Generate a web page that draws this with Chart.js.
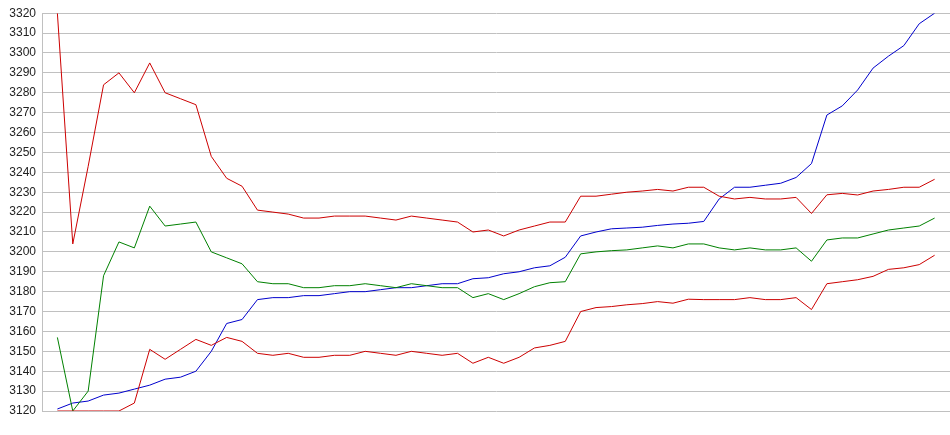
<!DOCTYPE html>
<html>
<head>
<meta charset="utf-8">
<script src="https://cdn.jsdelivr.net/npm/chart.js@4"></script>
<style>
  html, body { margin: 0; padding: 0; background: #fff; }
  #wrap { width: 950px; height: 435px; }
</style>
</head>
<body>
<div id="wrap"><canvas id="lineChart"></canvas></div>
<script>
// values, one per point (58 points)
const redUpper = [3320, 3204, 3243, 3284, 3290, 3280, 3295, 3280, 3277, 3274,
    3248, 3237, 3233, 3221, 3220, 3219, 3217, 3217, 3218, 3218,
    3218, 3217, 3216, 3218, 3217, 3216, 3215, 3210, 3211, 3208,
    3211, 3213, 3215, 3215, 3228, 3228, 3229, 3230, 3230.6, 3231.4,
    3230.6, 3232.5, 3232.5, 3228, 3226.6, 3227.4, 3226.6, 3226.6, 3227.4, 3219.3,
    3228.7, 3229.4, 3228.6, 3230.6, 3231.4, 3232.5, 3232.5, 3236.5];
const green = [3157, 3120, 3130, 3188, 3205, 3202, 3223, 3213, 3214, 3215,
    3200, 3197, 3194, 3185, 3184, 3184, 3182, 3182, 3183, 3183,
    3184, 3183, 3182, 3184, 3183, 3182, 3182, 3177, 3179, 3176,
    3179, 3182.5, 3184.5, 3185, 3199, 3200, 3200.6, 3201, 3202, 3203,
    3202, 3204, 3204, 3202, 3201, 3202, 3201, 3201, 3202, 3195.3,
    3206, 3207, 3207, 3209, 3211, 3212, 3213, 3217];
const blue = [3121, 3124, 3125, 3128, 3129, 3131, 3133, 3136, 3137, 3140,
    3150, 3164, 3166, 3176, 3177, 3177, 3178, 3178, 3179, 3180,
    3180, 3181, 3182, 3182, 3183, 3184, 3184, 3186.5, 3187, 3189,
    3190, 3192, 3193, 3197.3, 3208, 3210, 3211.6, 3212, 3212.4, 3213.3,
    3214, 3214.4, 3215.3, 3226.6, 3232.5, 3232.5, 3233.5, 3234.5, 3237.4, 3244.4,
    3268.8, 3273.4, 3281.4, 3292.4, 3298.4, 3303.7, 3314.7, 3320];
const redLower = [3120, 3120, 3120, 3120, 3120, 3124, 3151, 3146, 3151, 3156,
    3153, 3157, 3155, 3149, 3148, 3149, 3147, 3147, 3148, 3148,
    3150, 3149, 3148, 3150, 3149, 3148, 3149, 3144, 3147, 3144,
    3147, 3151.7, 3153, 3155, 3170, 3172, 3172.5, 3173.4, 3174, 3175,
    3174.2, 3176.2, 3176, 3176, 3176, 3177, 3176, 3176, 3177, 3171,
    3184, 3185, 3186, 3187.7, 3191.2, 3192, 3193.6, 3198.3];

const yMin = 3120, yMax = 3320, yStep = 10;

function toPoints(arr) {
    return arr.map((v, i) => ({ x: i, y: v }));
}

function lineSet(arr, color) {
    return {
        data: toPoints(arr),
        borderColor: color,
        borderWidth: 1,
        pointRadius: 0,
        fill: false,
        tension: 0
    };
}

const ctx = document.getElementById("lineChart").getContext("2d");
new Chart(ctx, {
    type: "line",
    data: {
        datasets: [
            lineSet(redLower, "#cc0000"),
            lineSet(green, "#008000"),
            lineSet(redUpper, "#cc0000"),
            lineSet(blue, "#0000cc")
        ]
    },
    options: {
        responsive: true,
        maintainAspectRatio: false,
        animation: false,
        layout: { padding: { top: 10, bottom: 24, left: 0, right: 0 } },
        plugins: { legend: { display: false }, tooltip: { enabled: false } },
        scales: {
            x: {
                type: "linear",
                display: false,
                min: -1,
                max: redUpper.length
            },
            y: {
                min: yMin,
                max: yMax,
                afterFit: scale => { scale.width = 42; },
                border: { display: true, color: "#c0c0c0" },
                grid: { color: "#c0c0c0", drawTicks: false },
                ticks: {
                    stepSize: yStep,
                    padding: 6,
                    color: "#222",
                    font: { family: "Arial, 'Liberation Sans'", size: 12 },
                    callback: value => String(value)
                }
            }
        }
    }
});
</script>
</body>
</html>
